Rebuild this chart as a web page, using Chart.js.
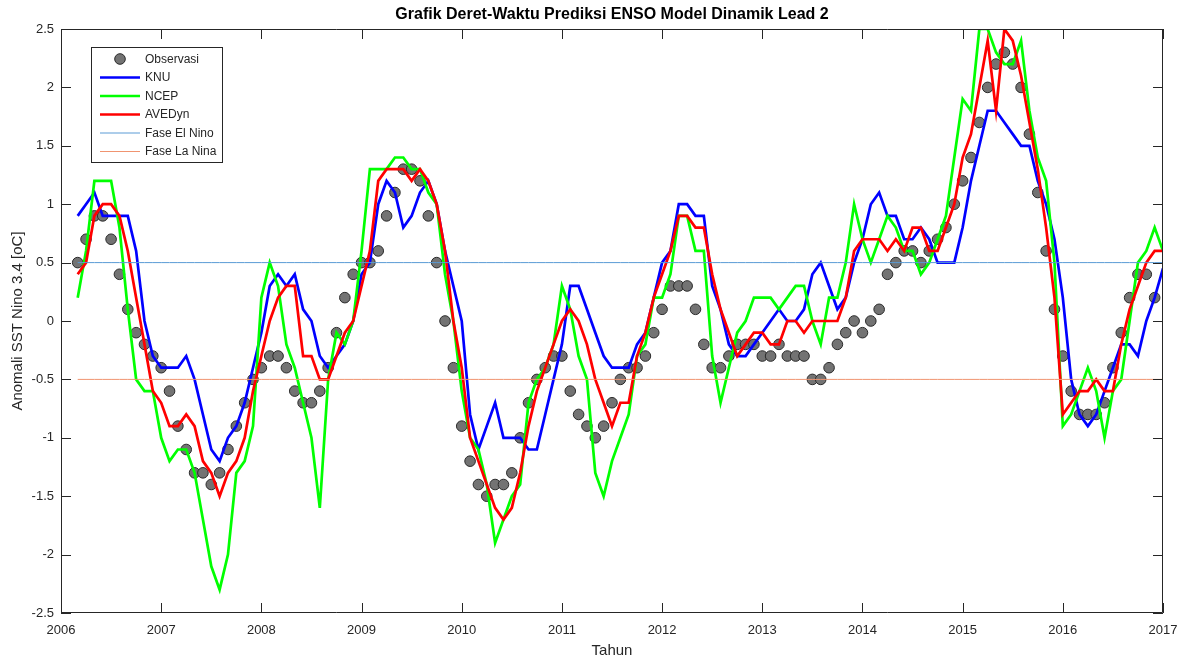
<!DOCTYPE html>
<html>
<head>
<meta charset="utf-8">
<script src="https://cdn.jsdelivr.net/npm/chart.js@4.4.1/dist/chart.umd.min.js"></script>
<style>
html,body{margin:0;padding:0;background:#ffffff;}
#wrap{width:1189px;height:664px;position:relative;}
</style>
</head>
<body>
<div id="wrap"><canvas id="c" width="1189" height="664"></canvas></div>
<script>
// ---------- text ----------
const judul = 'Grafik Deret-Waktu Prediksi ENSO Model Dinamik Lead 2';
const labelX = 'Tahun';
const labelY = 'Anomali SST Nino 3.4 [oC]';
const namaSeri = ['Observasi', 'KNU', 'NCEP', 'AVEDyn', 'Fase El Nino', 'Fase La Nina'];

// ---------- tick labels ----------
const tahunTicks = ['2006','2007','2008','2009','2010','2011','2012','2013','2014','2015','2016','2017'];
const anomaliTicks = ['-2.5','-2','-1.5','-1','-0.5','0','0.5','1','1.5','2','2.5'];

// ---------- time axis (monthly, first point = March 2006) ----------
const tahunAwal = 2006;
const bulanAwal = 2;

// ---------- series values ----------
const observasi = [
 0.5, 0.7, 0.9, 0.9, 0.7, 0.4, 0.1,-0.1,-0.2,-0.3,
-0.4,-0.6,-0.9,-1.1,-1.3,-1.3,-1.4,-1.3,-1.1,-0.9,
-0.7,-0.5,-0.4,-0.3,-0.3,-0.4,-0.6,-0.7,-0.7,-0.6,
-0.4,-0.1, 0.2, 0.4, 0.5, 0.5, 0.6, 0.9, 1.1, 1.3,
 1.3, 1.2, 0.9, 0.5, 0.0,-0.4,-0.9,-1.2,-1.4,-1.5,
-1.4,-1.4,-1.3,-1.0,-0.7,-0.5,-0.4,-0.3,-0.3,-0.6,
-0.8,-0.9,-1.0,-0.9,-0.7,-0.5,-0.4,-0.4,-0.3,-0.1,
 0.1, 0.3, 0.3, 0.3, 0.1,-0.2,-0.4,-0.4,-0.3,-0.2,
-0.2,-0.2,-0.3,-0.3,-0.2,-0.3,-0.3,-0.3,-0.5,-0.5,
-0.4,-0.2,-0.1, 0.0,-0.1, 0.0, 0.1, 0.4, 0.5, 0.6,
 0.6, 0.5, 0.6, 0.7, 0.8, 1.0, 1.2, 1.4, 1.7, 2.0,
 2.2, 2.3, 2.2, 2.0, 1.6, 1.1, 0.6, 0.1,-0.3,-0.6,
-0.8,-0.8,-0.8,-0.7,-0.4,-0.1, 0.2, 0.4, 0.4, 0.2
];
const knu = [
 0.9, 1.0, 1.1, 0.9, 0.9, 0.9, 0.9, 0.6, 0.0,-0.3,
-0.4,-0.4,-0.4,-0.3,-0.5,-0.8,-1.1,-1.2,-1.0,-0.9,
-0.7,-0.4,-0.1, 0.3, 0.4, 0.3, 0.4, 0.1, 0.0,-0.3,
-0.4,-0.3,-0.2, 0.0, 0.4, 0.5, 1.0, 1.2, 1.1, 0.8,
 0.9, 1.1, 1.2, 1.0, 0.6, 0.3, 0.0,-0.8,-1.1,-0.9,
-0.7,-1.0,-1.0,-1.0,-1.1,-1.1,-0.8,-0.5,-0.2, 0.3,
 0.3, 0.1,-0.1,-0.3,-0.4,-0.4,-0.4,-0.2,-0.1, 0.2,
 0.5, 0.6, 1.0, 1.0, 0.9, 0.9, 0.3, 0.1,-0.2,-0.3,
-0.3,-0.2,-0.1, 0.0, 0.1, 0.0, 0.0, 0.1, 0.4, 0.5,
 0.3, 0.1, 0.2, 0.5, 0.7, 1.0, 1.1, 0.9, 0.9, 0.7,
 0.7, 0.8, 0.7, 0.5, 0.5, 0.5, 0.8, 1.2, 1.5, 1.8,
 1.8, 1.7, 1.6, 1.5, 1.5, 1.2, 1.0, 0.7, 0.2,-0.5,
-0.8,-0.9,-0.8,-0.6,-0.4,-0.2,-0.2,-0.3, 0.0, 0.2,
 0.45
];
const ncep = [
 0.2, 0.6, 1.2, 1.2, 1.2, 0.8, 0.1,-0.5,-0.6,-0.6,
-1.0,-1.2,-1.1,-1.1,-1.3,-1.7,-2.1,-2.3,-2.0,-1.3,
-1.2,-0.9, 0.2, 0.5, 0.3,-0.2,-0.4,-0.7,-1.0,-1.6,
-0.5,-0.1,-0.2, 0.0, 0.6, 1.3, 1.3, 1.3, 1.4, 1.4,
 1.3, 1.3, 1.1, 1.0, 0.4, 0.0,-0.6,-1.0,-1.1,-1.4,
-1.9,-1.7,-1.5,-1.4,-0.7,-0.5,-0.4,-0.2, 0.3, 0.1,
-0.3,-0.5,-1.3,-1.5,-1.2,-1.0,-0.8,-0.3,-0.2, 0.2,
 0.2, 0.4, 0.9, 0.9, 0.6, 0.6,-0.3,-0.7,-0.4,-0.1,
 0.0, 0.2, 0.2, 0.2, 0.1, 0.2, 0.3, 0.3, 0.0,-0.2,
 0.2, 0.2, 0.5, 1.0, 0.7, 0.5, 0.7, 0.9, 0.8, 0.6,
 0.6, 0.4, 0.5, 0.7, 0.9, 1.4, 1.9, 1.8, 2.5, 2.5,
 2.3, 2.2, 2.2, 2.4, 1.8, 1.4, 1.2, 0.5,-0.9,-0.8,
-0.6,-0.4,-0.6,-1.0,-0.6,-0.5, 0.0, 0.5, 0.6, 0.8,
 0.6
];
const avedyn = [
 0.4, 0.5, 0.9, 1.0, 1.0, 0.9, 0.6, 0.2,-0.2,-0.6,
-0.7,-0.9,-0.9,-0.8,-0.9,-1.2,-1.3,-1.5,-1.3,-1.2,
-1.0,-0.6,-0.3, 0.0, 0.2, 0.3, 0.3,-0.3,-0.3,-0.5,
-0.5,-0.3,-0.1, 0.0, 0.3, 0.6, 1.2, 1.3, 1.3, 1.3,
 1.2, 1.3, 1.2, 1.0, 0.6, 0.0,-0.4,-1.0,-1.2,-1.4,
-1.6,-1.7,-1.6,-1.3,-0.9,-0.6,-0.4,-0.2, 0.0, 0.1,
 0.0,-0.2,-0.5,-0.7,-0.9,-0.7,-0.7,-0.3,-0.1, 0.2,
 0.4, 0.6, 0.9, 0.9, 0.8, 0.8, 0.4, 0.1,-0.1,-0.3,
-0.2,-0.1,-0.1,-0.2,-0.2, 0.0, 0.0,-0.1, 0.0, 0.0,
 0.0, 0.0, 0.2, 0.6, 0.7, 0.7, 0.7, 0.6, 0.7, 0.6,
 0.8, 0.8, 0.6, 0.6, 0.8, 1.0, 1.4, 1.6, 2.0, 2.4,
 1.8, 2.5, 2.4, 2.1, 1.7, 1.3, 0.8, 0.2,-0.8,-0.7,
-0.6,-0.6,-0.5,-0.6,-0.6,-0.2, 0.1, 0.3, 0.5, 0.6,
 0.6
];
const batasElNino = 0.5;
const batasLaNina = -0.5;

// ---------- colours ----------
const warna = {
  obsFill: '#737373', obsEdge: '#2a2a2a',
  knu: '#0000ff', ncep: '#00ff00', avedyn: '#ff0000',
  elnino: '#5a9bd5', lanina: '#f09470', axis: '#262626'
};

// build x positions
const xOf = i => tahunAwal + (bulanAwal + i) / 12;
const toXY = arr => arr.map((v, i) => ({ x: xOf(i), y: v }));
const nLine = knu.length;
const garisConst = val => Array.from({ length: nLine }, (_, i) => ({ x: xOf(i), y: val }));

const FONT = "'Liberation Sans', Arial, Helvetica, sans-serif";

// axes box with inward ticks (MATLAB style)
const boxPlugin = {
  id: 'matlabBox',
  afterDatasetsDraw(chart) {
    const { ctx, chartArea: a, scales } = chart;
    ctx.save();
    ctx.strokeStyle = warna.axis;
    ctx.lineWidth = 1;
    ctx.beginPath();
    ctx.rect(Math.round(a.left) + 0.5, Math.round(a.top) + 0.5,
             Math.round(a.right - a.left) - 1, Math.round(a.bottom - a.top) - 1);
    ctx.stroke();
    const L = 10;
    ctx.beginPath();
    scales.x.ticks.forEach(t => {
      const px = Math.round(scales.x.getPixelForValue(t.value)) + 0.5;
      ctx.moveTo(px, a.bottom); ctx.lineTo(px, a.bottom - L);
      ctx.moveTo(px, a.top); ctx.lineTo(px, a.top + L);
    });
    scales.y.ticks.forEach(t => {
      const py = Math.round(scales.y.getPixelForValue(t.value)) + 0.5;
      ctx.moveTo(a.left, py); ctx.lineTo(a.left + L, py);
      ctx.moveTo(a.right, py); ctx.lineTo(a.right - L, py);
    });
    ctx.stroke();
    ctx.restore();
  }
};

// legend box inside plot (top-left)
const legendPlugin = {
  id: 'boxLegend',
  afterDraw(chart) {
    const { ctx, chartArea: a } = chart;
    const x0 = a.left + 30, y0 = a.top + 18, w = 131, h = 115;
    ctx.save();
    ctx.fillStyle = '#ffffff';
    ctx.fillRect(x0, y0, w, h);
    ctx.strokeStyle = warna.axis;
    ctx.lineWidth = 1;
    ctx.strokeRect(Math.round(x0) + 0.5, Math.round(y0) + 0.5, w, h);
    const rowH = 18.5, firstY = y0 + 12;
    const sx0 = x0 + 9, sx1 = x0 + 49, tx = x0 + 54;
    ctx.font = '12px ' + FONT;
    ctx.textBaseline = 'middle';
    ctx.textAlign = 'left';
    chart.data.datasets.forEach((ds, i) => {
      const y = firstY + i * rowH;
      if (i === 0) {
        ctx.beginPath();
        ctx.arc((sx0 + sx1) / 2, y, 5.3, 0, Math.PI * 2);
        ctx.fillStyle = warna.obsFill; ctx.fill();
        ctx.strokeStyle = warna.obsEdge; ctx.lineWidth = 1; ctx.stroke();
      } else {
        ctx.beginPath();
        ctx.moveTo(sx0, y); ctx.lineTo(sx1, y);
        ctx.strokeStyle = ds.borderColor;
        ctx.lineWidth = ds.borderWidth;
        ctx.stroke();
      }
      ctx.fillStyle = warna.axis;
      ctx.fillText(ds.label, tx, y + 0.5);
    });
    ctx.restore();
  }
};

new Chart(document.getElementById('c'), {
  type: 'line',
  data: {
    datasets: [
      { label: namaSeri[0], data: toXY(observasi), showLine: false,
        pointRadius: 5.3, pointHoverRadius: 5.3, pointBackgroundColor: warna.obsFill,
        pointBorderColor: warna.obsEdge, pointBorderWidth: 1, borderColor: warna.obsEdge,
        backgroundColor: warna.obsFill, order: 6 },
      { label: namaSeri[1], data: toXY(knu), borderColor: warna.knu, borderWidth: 2.7,
        pointRadius: 0, tension: 0, order: 5 },
      { label: namaSeri[2], data: toXY(ncep), borderColor: warna.ncep, borderWidth: 2.7,
        pointRadius: 0, tension: 0, order: 4 },
      { label: namaSeri[3], data: toXY(avedyn), borderColor: warna.avedyn, borderWidth: 2.7,
        pointRadius: 0, tension: 0, order: 3 },
      { label: namaSeri[4], data: garisConst(batasElNino), borderColor: warna.elnino, borderWidth: 1,
        pointRadius: 0, tension: 0, order: 2 },
      { label: namaSeri[5], data: garisConst(batasLaNina), borderColor: warna.lanina, borderWidth: 1,
        pointRadius: 0, tension: 0, order: 1 }
    ]
  },
  options: {
    responsive: false,
    animation: false,
    devicePixelRatio: 1,
    layout: { padding: { left: 0, right: 26, top: 0, bottom: 0 } },
    plugins: {
      legend: { display: false },
      tooltip: { enabled: false },
      title: {
        display: true, text: judul, fullSize: false, color: '#000000',
        font: { family: FONT, size: 16, weight: 'bold', lineHeight: 1.2 },
        padding: { top: 5, bottom: 4.8 }
      }
    },
    scales: {
      x: {
        type: 'linear', min: 2006, max: 2017,
        grid: { display: false, drawTicks: false },
        border: { display: false },
        ticks: {
          stepSize: 1, autoSkip: false, maxRotation: 0, padding: 10,
          color: warna.axis, font: { family: FONT, size: 13 },
          callback: v => tahunTicks.find(t => Number(t) === v) ?? ''
        },
        title: { display: true, text: labelX, color: warna.axis,
          font: { family: FONT, size: 15 }, padding: { top: 0, bottom: 4 } },
        afterFit: s => { s.height = 51; }
      },
      y: {
        type: 'linear', min: -2.5, max: 2.5,
        grid: { display: false, drawTicks: false },
        border: { display: false },
        ticks: {
          stepSize: 0.5, autoSkip: false, padding: 7,
          color: warna.axis, font: { family: FONT, size: 13 },
          callback: v => anomaliTicks.find(t => Math.abs(Number(t) - v) < 1e-9) ?? ''
        },
        title: { display: true, text: labelY, color: warna.axis,
          font: { family: FONT, size: 15 }, padding: { top: 9, bottom: 0 } },
        afterFit: s => { s.width = 61; }
      }
    }
  },
  plugins: [boxPlugin, legendPlugin]
});
</script>
</body>
</html>
